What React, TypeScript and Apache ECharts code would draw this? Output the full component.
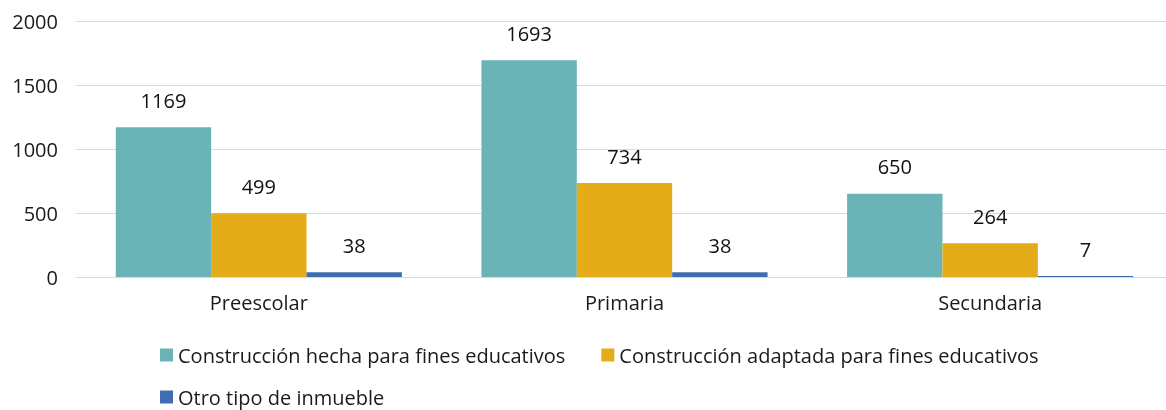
import React, { useEffect, useRef } from "react";
import * as echarts from "echarts";

const categories = ["Preescolar", "Primaria", "Secundaria"];
const hecha = [1169, 1693, 650];
const adaptada = [499, 734, 264];
const otro = [38, 38, 7];
const seriesNames = [
  "Construcción hecha para fines educativos",
  "Construcción adaptada para fines educativos",
  "Otro tipo de inmueble",
];
const colors = ["#6AB3B6", "#E5AC1A", "#3F6DB1"];

const FONT = "Open Sans";
const FS = 20;

export default function App() {
  const ref = useRef<HTMLDivElement>(null);
  useEffect(() => {
    const chart = echarts.init(ref.current!, null, { renderer: "svg" });
    const label = {
      show: true,
      position: "top",
      distance: 17,
      color: "#111",
      fontSize: FS,
      fontFamily: FONT,
    };
    const legendText = { color: "#1a1a1a", fontSize: FS, fontFamily: FONT, lineHeight: 20 };
    const gap = "21.75%";
    chart.setOption({
      animation: false,
      color: colors,
      grid: { left: 76, right: 0, top: 21, bottom: 133, containLabel: false },
      legend: [
        {
          data: [seriesNames[0], seriesNames[1]],
          left: 160,
          top: 345,
          padding: 0,
          icon: "rect",
          itemWidth: 13,
          itemHeight: 13,
          itemGap: 36,
          textStyle: legendText,
        },
        {
          data: [seriesNames[2]],
          left: 160,
          top: 387,
          padding: 0,
          icon: "rect",
          itemWidth: 13,
          itemHeight: 13,
          textStyle: legendText,
        },
      ],
      xAxis: {
        type: "category",
        data: categories,
        axisLine: { show: true, lineStyle: { color: "#D9D9D9", width: 1 } },
        axisTick: { show: false },
        axisLabel: { color: "#1a1a1a", fontSize: FS, fontFamily: FONT, margin: 15 },
      },
      yAxis: {
        type: "value",
        min: 0,
        max: 2000,
        interval: 500,
        axisLine: { show: false },
        axisTick: { show: false },
        splitLine: { lineStyle: { color: "#D9D9D9", width: 1 } },
        axisLabel: {
          color: "#1a1a1a",
          fontSize: FS,
          fontFamily: FONT,
          margin: 18,
          formatter: (v: number) => String(v),
        },
      },
      series: [
        { name: seriesNames[0], type: "bar", data: hecha, barGap: "0%", barCategoryGap: gap, label },
        { name: seriesNames[1], type: "bar", data: adaptada, barGap: "0%", barCategoryGap: gap, label },
        { name: seriesNames[2], type: "bar", data: otro, barGap: "0%", barCategoryGap: gap, label },
      ],
    });
    return () => chart.dispose();
  }, []);
  return (
    <div style={{ position: "fixed", left: 0, top: 0, width: 1166, height: 410, overflow: "hidden" }}>
      <div ref={ref} style={{ width: 1173, height: 410 }} />
    </div>
  );
}
